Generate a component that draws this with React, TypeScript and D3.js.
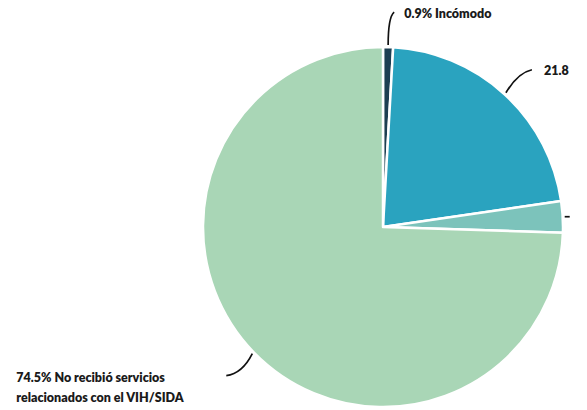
import React from "react";
import * as d3 from "d3";

const categories = ["Incómodo", "Cómodo", "Otro", "No recibió servicios relacionados con el VIH/SIDA"];
const values = [0.9, 21.8, 2.8, 74.5];
const labelLines = [["0.9% Incómodo"], ["21.8"], [], ["74.5% No recibió servicios", "relacionados con el VIH/SIDA"]];
const colors = ["#1d3f52", "#2aa3bf", "#7cc3bb", "#a9d6b6"];

const W = 587, H = 410;
const cx = 383, cy = 227, R = 180;

const leaders: [number, number, number, number][] = [
  [6, -33, 0, -28],
  [26, -23, 12, -20],
  [5, 0, 3, 0],
  [-26, 22, -10, 20],
];
const labelOffsets: [number, number][] = [
  [10, 6],
  [12, 5],
  [30, 4],
  [-210, 6],
];

export default function App() {
  const pie = d3.pie<number>().sort(null).value((d) => d)(values);
  const arc = d3.arc<d3.PieArcDatum<number>>().innerRadius(0).outerRadius(R);
  return (
    <svg width={W} height={H} style={{ position: "absolute", left: 0, top: 0, background: "#fff" }}>
      <g transform={`translate(${cx},${cy})`}>
        {pie.map((p, i) => (
          <path key={i} d={arc(p) || ""} fill={colors[i]} stroke="#fff" strokeWidth={2.5} strokeLinejoin="round" />
        ))}
        {pie.map((p, i) => {
          const a = (p.startAngle + p.endAngle) / 2;
          const r0 = R + 2;
          const sx = r0 * Math.sin(a), sy = -r0 * Math.cos(a);
          const [dx, dy, qx, qy] = leaders[i];
          const ex = sx + dx, ey = sy + dy;
          const path = d3.path();
          path.moveTo(sx, sy);
          path.quadraticCurveTo(sx + qx, sy + qy, ex, ey);
          const [lx, ly] = labelOffsets[i];
          return (
            <g key={"l" + i}>
              <path d={path.toString()} fill="none" stroke="#111" strokeWidth={1.7} />
              {labelLines[i].length > 0 && (
                <text
                  x={ex + lx}
                  y={ey + ly}
                  fontFamily="Lato, 'Open Sans', sans-serif"
                  fontWeight={800}
                  fontSize={12.5}
                  fill="#1a1a1a"
                >
                  {labelLines[i].map((t, k) => (
                    <tspan key={k} x={ex + lx} dy={k === 0 ? 0 : 20}>
                      {t}
                    </tspan>
                  ))}
                </text>
              )}
            </g>
          );
        })}
      </g>
    </svg>
  );
}
